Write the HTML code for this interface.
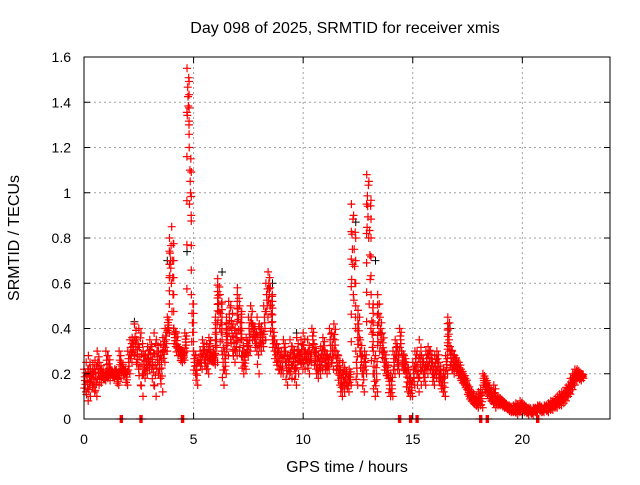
<!DOCTYPE html>
<html><head><meta charset="utf-8"><style>
body{margin:0;background:#fff;width:640px;height:480px;overflow:hidden}
svg text{font-family:"Liberation Sans",sans-serif;fill:#000}
</style></head><body>
<svg id="chart" width="640" height="480" xmlns="http://www.w3.org/2000/svg">
<text x="345" y="33" font-size="16" text-anchor="middle">Day 098 of 2025, SRMTID for receiver xmis</text>
<text transform="translate(19,238) rotate(-90)" font-size="16" text-anchor="middle">SRMTID / TECUs</text>
<text x="347" y="472" font-size="16" text-anchor="middle">GPS time / hours</text>
<g id="grid"></g><g id="marks"></g><g id="axes"></g>
</svg>
<script>
const yTicks=[0,0.2,0.4,0.6,0.8,1,1.2,1.4,1.6];
const yTickLabels=["0","0.2","0.4","0.6","0.8","1","1.2","1.4","1.6"];
const xTicks=[0,5,10,15,20];
const xTickLabels=["0","5","10","15","20"];
const binStart=0, binStep=0.1;
const upperVals=[0.22,0.25,0.28,0.22,0.24,0.26,0.3,0.25,0.22,0.2,
0.3,0.28,0.22,0.2,0.22,0.2,0.3,0.25,0.22,0.22,
0.3,0.35,0.36,0.42,0.35,0.4,0.38,0.3,0.28,0.32,
0.35,0.32,0.38,0.35,0.3,0.33,0.36,0.4,0.45,0.8,
0.85,0.4,0.38,0.32,0.3,0.3,0.38,1.55,1.2,0.55,
0.3,0.28,0.25,0.3,0.35,0.3,0.33,0.36,0.28,0.3,
0.45,0.62,0.55,0.35,0.3,0.45,0.52,0.5,0.42,0.4,
0.58,0.5,0.35,0.3,0.36,0.45,0.5,0.42,0.4,0.45,
0.42,0.4,0.5,0.6,0.65,0.58,0.4,0.35,0.33,0.3,
0.3,0.35,0.3,0.28,0.35,0.32,0.3,0.36,0.3,0.35,
0.38,0.3,0.35,0.3,0.4,0.33,0.3,0.28,0.32,0.36,
0.3,0.28,0.4,0.38,0.42,0.3,0.28,0.22,0.25,0.22,
0.2,0.22,0.95,0.9,0.3,0.48,0.35,0.28,0.3,1.08,
1.05,0.55,0.3,0.28,0.55,0.45,0.38,0.3,0.25,0.2,
0.2,0.3,0.35,0.32,0.4,0.3,0.28,0.25,0.22,0.18,
0.25,0.3,0.3,0.35,0.28,0.25,0.3,0.32,0.3,0.25,
0.28,0.3,0.25,0.2,0.22,0.28,0.45,0.32,0.3,0.28,
0.26,0.25,0.22,0.2,0.18,0.15,0.13,0.12,0.1,0.1,
0.12,0.13,0.2,0.18,0.16,0.14,0.12,0.15,0.1,0.1,
0.09,0.08,0.07,0.06,0.06,0.05,0.06,0.07,0.06,0.08,
0.07,0.06,0.05,0.05,0.04,0.05,0.05,0.06,0.06,0.05,
0.06,0.06,0.07,0.08,0.08,0.09,0.1,0.11,0.12,0.12,
0.14,0.15,0.18,0.2,0.22,0.22,0.2,0.2];
const lowerVals=[0.12,0.08,0.1,0.15,0.12,0.1,0.15,0.16,0.18,0.17,
0.18,0.17,0.2,0.18,0.2,0.15,0.18,0.2,0.2,0.15,
0.2,0.25,0.28,0.25,0.22,0.15,0.1,0.18,0.2,0.22,
0.22,0.15,0.1,0.2,0.18,0.12,0.25,0.3,0.38,0.6,
0.4,0.32,0.28,0.3,0.25,0.26,0.3,1.3,0.9,0.3,
0.2,0.15,0.25,0.22,0.26,0.22,0.2,0.28,0.25,0.24,
0.25,0.4,0.3,0.15,0.2,0.28,0.35,0.3,0.25,0.28,
0.3,0.28,0.2,0.22,0.28,0.3,0.35,0.35,0.3,0.2,
0.3,0.32,0.35,0.45,0.5,0.35,0.3,0.25,0.22,0.2,
0.2,0.25,0.15,0.2,0.18,0.22,0.15,0.2,0.25,0.22,
0.22,0.25,0.2,0.25,0.3,0.22,0.18,0.2,0.22,0.25,
0.2,0.22,0.25,0.22,0.28,0.2,0.15,0.1,0.12,0.15,
0.12,0.15,0.55,0.45,0.15,0.3,0.2,0.12,0.2,0.8,
0.4,0.2,0.1,0.12,0.3,0.3,0.25,0.2,0.18,0.1,
0.1,0.2,0.25,0.2,0.3,0.22,0.2,0.12,0.1,0.1,
0.15,0.2,0.12,0.15,0.2,0.15,0.2,0.22,0.2,0.15,
0.18,0.2,0.15,0.12,0.1,0.2,0.3,0.22,0.2,0.22,
0.2,0.18,0.16,0.15,0.13,0.1,0.08,0.07,0.06,0.05,
0.06,0.05,0.14,0.12,0.1,0.08,0.07,0.05,0.06,0.06,
0.06,0.05,0.05,0.04,0.03,0.03,0.03,0.02,0.03,0.03,
0.03,0.03,0.02,0.03,0.02,0.03,0.03,0.04,0.03,0.03,
0.04,0.03,0.04,0.04,0.05,0.05,0.06,0.06,0.07,0.08,
0.1,0.11,0.13,0.15,0.17,0.18,0.17,0.18];
const zeroTimes=[1.7,2.6,4.5,14.4,14.9,15.2,18.1,18.4,20.7];
const blackTimes=[2.3,3.8,4.7,6.3,8.6,9.7,12.4,13.3,16.7];
const blackVals=[0.43,0.7,0.74,0.65,0.6,0.38,0.87,0.7,0.4];
const L=84,R=610,T=57,B=419,X0=0,X1=24,Y0=0,Y1=1.6;
const xs=v=>L+(v-X0)/(X1-X0)*(R-L);
const ys=v=>B-(v-Y0)/(Y1-Y0)*(B-T);
const NS="http://www.w3.org/2000/svg";
function mk(tag,attrs,parent){const e=document.createElementNS(NS,tag);for(const k in attrs)e.setAttribute(k,attrs[k]);parent.appendChild(e);return e;}
const grid=document.getElementById('grid'),marks=document.getElementById('marks'),axes=document.getElementById('axes');
yTicks.forEach((v,i)=>{
 if(v>Y0&&v<Y1){const g=mk('line',{x1:L,x2:R,y1:ys(v),y2:ys(v),stroke:'#a0a0a0','stroke-dasharray':'2,3'},grid);
 
 }
 const t=mk('text',{x:L-13,y:ys(v)+5,'font-size':14,'text-anchor':'end'},axes);t.textContent=yTickLabels[i];
 
 
 mk('line',{x1:L,x2:L+6,y1:ys(v),y2:ys(v),stroke:'#000'},axes);
 mk('line',{x1:R,x2:R-6,y1:ys(v),y2:ys(v),stroke:'#000'},axes);
});
xTicks.forEach((v,i)=>{
 if(v>X0){const g=mk('line',{x1:xs(v),x2:xs(v),y1:T,y2:B,stroke:'#a0a0a0','stroke-dasharray':'2,3'},grid);
 
 }
 const t=mk('text',{x:xs(v),y:B+25,'font-size':14,'text-anchor':'middle'},axes);t.textContent=xTickLabels[i];
 
 
 mk('line',{x1:xs(v),x2:xs(v),y1:B,y2:B-6,stroke:'#000'},axes);
 mk('line',{x1:xs(v),x2:xs(v),y1:T,y2:T+6,stroke:'#000'},axes);
});
const fr=mk('rect',{x:L,y:T,width:R-L,height:B-T,fill:'none',stroke:'#000'},axes);


let pd='';
const plus=(t,v)=>{const x=xs(t),y=ys(v);pd+=`M${(x-4).toFixed(1)} ${y.toFixed(1)}h8M${x.toFixed(1)} ${(y-4).toFixed(1)}v8`;};
let bd='';
blackTimes.forEach((t,i)=>{const x=xs(t),y=ys(blackVals[i]);bd+=`M${x-4} ${y}h8M${x} ${y-4}v8`;});
const bp=mk('path',{d:bd,stroke:'#000','stroke-width':1,fill:'none'},marks);


upperVals.forEach((u,i)=>{
 const lo=lowerVals[i],t=binStart+i*binStep;
 const n=7;
 for(let k=0;k<n;k++){const f=k/(n-1);plus(t+f*binStep*0.9,(k%2?lo+(u-lo)*f:u-(u-lo)*f));}
 if(i+1<upperVals.length){const nu=upperVals[i+1];if(Math.abs(nu-u)>0.15){for(let k=1;k<6;k++)plus(t+binStep*0.95,u+(nu-u)*k/6);}}
});
zeroTimes.forEach(t=>{plus(t-0.05,0);plus(t,0);plus(t+0.05,0);});
const rp=mk('path',{d:pd,stroke:'#ff0000','stroke-width':1.2,fill:'none'},marks);


</script>
</body></html>
